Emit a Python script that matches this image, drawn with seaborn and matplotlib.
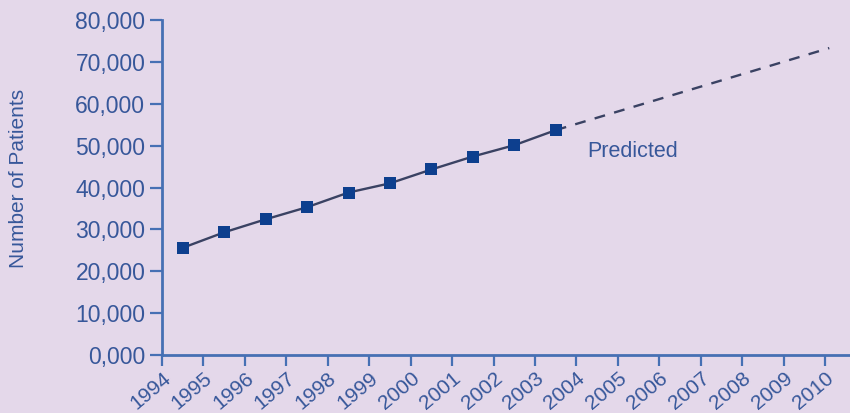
import numpy as np
import pandas as pd
import matplotlib
matplotlib.use("Agg")
import matplotlib.pyplot as plt
import seaborn as sns
from matplotlib.ticker import FixedLocator, FuncFormatter

# Observed patient counts, plotted at mid-year
obs_year = [1994.5, 1995.5, 1996.5, 1997.5, 1998.5, 1999.5, 2000.5, 2001.5, 2002.5, 2003.5]
obs_patients = [25600, 29300, 32400, 35300, 38800, 41000, 44300, 47400, 50100, 53700]

# Projection continuing from the last observation
pred_year = [2003.5, 2010.1]
pred_patients = [53700, 73300]

year_ticks = list(range(1994, 2011))
patient_ticks = [0, 10000, 20000, 30000, 40000, 50000, 60000, 70000, 80000]

BG = "#e4d8ea"
TEXT = "#37579a"
AXIS = "#4670b4"
MARK = "#0d3f8e"
LINE = "#3a4263"

sns.set_theme(style="white")
plt.rcParams["font.family"] = ["Liberation Sans", "DejaVu Sans"]

fig = plt.figure(figsize=(8.5, 4.13), dpi=100, facecolor=BG)
ax = fig.add_axes([162 / 850, 58 / 413, 1 - 162 / 850, (355 - 20) / 413])
ax.set_facecolor(BG)

obs = pd.DataFrame({"year": obs_year, "patients": obs_patients})
pred = pd.DataFrame({"year": pred_year, "patients": pred_patients})

sns.lineplot(data=pred, x="year", y="patients", ax=ax, color=LINE,
             linewidth=1.7, linestyle=(0, (4.6, 4.0)), zorder=2)
sns.lineplot(data=obs, x="year", y="patients", ax=ax, color=LINE,
             linewidth=1.7, zorder=3)
sns.scatterplot(data=obs, x="year", y="patients", ax=ax, color=MARK,
                marker="s", s=70, edgecolor=MARK, linewidth=0, zorder=4)

ax.set_xlim(1994, 2010.6)
ax.set_ylim(0, 80000)
ax.xaxis.set_major_locator(FixedLocator(year_ticks))
ax.yaxis.set_major_locator(FixedLocator(patient_ticks))
ax.yaxis.set_major_formatter(FuncFormatter(
    lambda v, p: "0,000" if v == 0 else f"{int(v):,}"))
ax.set_xticklabels([str(y) for y in year_ticks], rotation=40,
                   ha="right", rotation_mode="anchor")

for side in ("top", "right"):
    ax.spines[side].set_visible(False)
for side in ("left", "bottom"):
    ax.spines[side].set_color(AXIS)
    ax.spines[side].set_linewidth(2.0)

ax.tick_params(axis="y", which="major", direction="out", length=9, width=1.6,
               color=AXIS, labelcolor=TEXT, labelsize=16.5, pad=3, left=True)
ax.tick_params(axis="x", which="major", direction="out", length=8, width=1.6,
               color=AXIS, labelcolor=TEXT, labelsize=15, pad=2, bottom=True)

ax.set_xlabel("")
ax.set_ylabel("")
fig.text(19 / 850, 1 - 178 / 413, "Number of Patients", rotation=90,
         ha="center", va="center", color=TEXT, fontsize=15)

ax.text(2004.25, 48500, "Predicted", color=TEXT, fontsize=15.5,
        ha="left", va="center")

ax.grid(False)
fig.savefig("out.png", dpi=100, facecolor=BG)
